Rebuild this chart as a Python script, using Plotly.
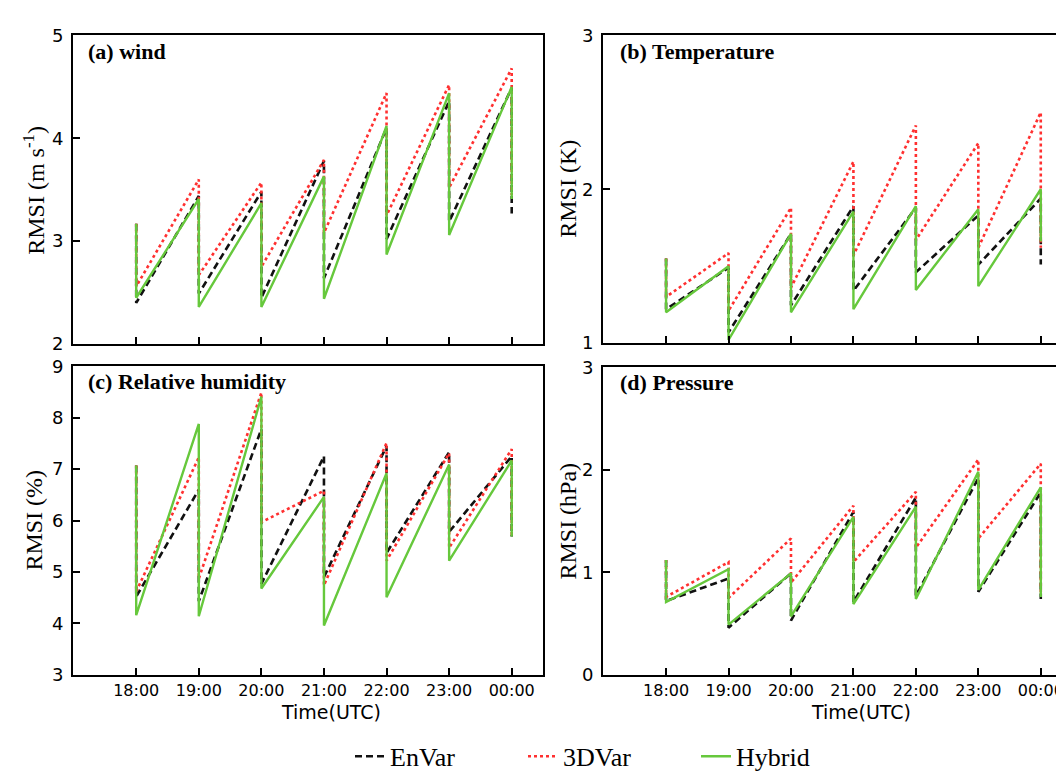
import plotly.graph_objects as go
from plotly.subplots import make_subplots

# ---------------- data ----------------
hours = ["18:00", "19:00", "20:00", "21:00", "22:00", "23:00", "00:00"]
series_names = ["EnVar", "3DVar", "Hybrid"]

# (a) wind : forecast (top of saw) and analysis (bottom of saw) at each hour
wind_envar_fc = [3.17, 3.44, 3.48, 3.78, 4.10, 4.36, 4.49]
wind_envar_an = [2.40, 2.49, 2.45, 2.64, 3.02, 3.19, 3.27]
wind_3dvar_fc = [3.17, 3.60, 3.57, 3.79, 4.44, 4.52, 4.68]
wind_3dvar_an = [2.56, 2.67, 2.75, 3.08, 3.25, 3.52, 3.45]
wind_hybrid_fc = [3.17, 3.41, 3.37, 3.63, 4.12, 4.44, 4.50]
wind_hybrid_an = [2.45, 2.36, 2.36, 2.44, 2.87, 3.06, 3.41]

# (b) temperature
temp_envar_fc = [1.55, 1.49, 1.71, 1.89, 1.88, 1.83, 1.94]
temp_envar_an = [1.22, 1.07, 1.245, 1.34, 1.46, 1.51, 1.51]
temp_3dvar_fc = [1.55, 1.585, 1.88, 2.18, 2.415, 2.30, 2.50]
temp_3dvar_an = [1.30, 1.21, 1.36, 1.57, 1.67, 1.62, 1.62]
temp_hybrid_fc = [1.55, 1.50, 1.71, 1.855, 1.89, 1.87, 2.00]
temp_hybrid_an = [1.20, 1.02, 1.20, 1.22, 1.345, 1.37, 1.66]

# (c) relative humidity
rh_envar_fc = [7.07, 6.60, 7.78, 7.25, 7.45, 7.33, 7.25]
rh_envar_an = [4.52, 4.43, 4.77, 4.90, 5.37, 5.78, 5.69]
rh_3dvar_fc = [7.07, 7.23, 8.49, 6.58, 7.51, 7.31, 7.39]
rh_3dvar_an = [4.62, 4.87, 5.97, 4.74, 5.22, 5.47, 5.70]
rh_hybrid_fc = [7.07, 7.88, 8.41, 6.46, 6.92, 7.09, 7.17]
rh_hybrid_an = [4.16, 4.14, 4.68, 3.96, 4.51, 5.22, 5.69]

# (d) pressure
p_envar_fc = [1.12, 0.94, 0.99, 1.59, 1.73, 1.92, 1.78]
p_envar_an = [0.72, 0.46, 0.53, 0.71, 0.77, 0.81, 0.74]
p_3dvar_fc = [1.12, 1.10, 1.33, 1.65, 1.785, 2.10, 2.06]
p_3dvar_an = [0.76, 0.75, 0.90, 1.10, 1.24, 1.33, 0.78]
p_hybrid_fc = [1.12, 1.03, 0.99, 1.54, 1.64, 1.98, 1.83]
p_hybrid_an = [0.71, 0.49, 0.57, 0.69, 0.74, 0.83, 0.76]

panel_titles = ["(a) wind", "(b) Temperature", "(c) Relative humidity", "(d) Pressure"]
y_titles = ["RMSI (m s<sup>-1</sup>)", "RMSI (K)", "RMSI (%)", "RMSI (hPa)"]
y_ranges = [[2, 5], [1, 3], [3, 9], [0, 3]]
y_ticks = [[2, 3, 4, 5], [1, 2, 3], [3, 4, 5, 6, 7, 8, 9], [0, 1, 2, 3]]
x_title = "Time(UTC)"

panels = [
    [(wind_envar_fc, wind_envar_an), (wind_3dvar_fc, wind_3dvar_an), (wind_hybrid_fc, wind_hybrid_an)],
    [(temp_envar_fc, temp_envar_an), (temp_3dvar_fc, temp_3dvar_an), (temp_hybrid_fc, temp_hybrid_an)],
    [(rh_envar_fc, rh_envar_an), (rh_3dvar_fc, rh_3dvar_an), (rh_hybrid_fc, rh_hybrid_an)],
    [(p_envar_fc, p_envar_an), (p_3dvar_fc, p_3dvar_an), (p_hybrid_fc, p_hybrid_an)],
]

# ---------------- styling ----------------
W, H = 1064, 772
styles = [
    dict(color="#111111", width=2.6, dash="7px,4px"),
    dict(color="#FF3030", width=2.6, dash="dot"),
    dict(color="#66C83C", width=2.4, dash="solid"),
]
SERIF = "Liberation Serif"
SANS = "DejaVu Sans"

fig = make_subplots(rows=2, cols=2)

xs = []
for i in range(len(hours)):
    xs += [i, i]

pos = [(1, 1), (1, 2), (2, 1), (2, 2)]
for p, (r, c) in enumerate(pos):
    for s, (fc, an) in enumerate(panels[p]):
        ys = []
        for f, a in zip(fc, an):
            ys += [f, a]
        fig.add_trace(
            go.Scatter(x=xs, y=ys, mode="lines", name=series_names[s],
                       line=styles[s], showlegend=(p == 0), legendgroup=series_names[s]),
            row=r, col=c,
        )

def px_x(a, b):
    return [a / W, b / W]

def px_y(top, bottom):
    return [1 - bottom / H, 1 - top / H]

dom_x = [px_x(65, 535), px_x(595, 1064), px_x(65, 535), px_x(595, 1064)]
dom_y = [px_y(17, 335), px_y(17, 334), px_y(358, 676), px_y(359, 676)]

for p in range(4):
    ax = "" if p == 0 else str(p + 1)
    fig.layout["xaxis" + ax].update(
        domain=dom_x[p], range=[-1.01, 6.5], tickmode="array",
        tickvals=list(range(len(hours))), ticktext=hours,
        showticklabels=(p >= 2), ticks="inside", ticklen=7, tickwidth=1.5,
        tickcolor="black", showline=True, linecolor="black", linewidth=2,
        mirror=True, showgrid=False, zeroline=False,
        tickfont=dict(family=SANS, size=16, color="black"),
    )
    fig.layout["yaxis" + ax].update(
        domain=dom_y[p], range=y_ranges[p], tickmode="array",
        tickvals=y_ticks[p], ticks="inside", ticklen=7, tickwidth=1.5,
        tickcolor="black", showline=True, linecolor="black", linewidth=2,
        mirror=(p % 2 == 0), showgrid=False, zeroline=False,
        ticklabelstandoff=4,
        tickfont=dict(family=SANS, size=18, color="black"),
    )

annotations = []
title_pos = [(78, 33), (610, 33), (78, 374), (610, 375)]
for p in range(4):
    annotations.append(dict(
        text="<b>" + panel_titles[p] + "</b>", x=title_pos[p][0] / W, y=1 - title_pos[p][1] / H,
        xref="paper", yref="paper", xanchor="left", yanchor="middle", showarrow=False,
        font=dict(family=SERIF, size=22, color="black"),
    ))
ytitle_pos = [(26, 177), (560, 175), (26, 517), (560, 518)]
for p in range(4):
    annotations.append(dict(
        text=y_titles[p], x=ytitle_pos[p][0] / W, y=1 - ytitle_pos[p][1] / H,
        xref="paper", yref="paper", xanchor="center", yanchor="middle", showarrow=False,
        textangle=-90, font=dict(family=SERIF, size=24, color="black"),
    ))
for xc in (323, 853):
    annotations.append(dict(
        text=x_title, x=xc / W, y=1 - 714 / H, xref="paper", yref="paper",
        xanchor="center", yanchor="middle", showarrow=False,
        font=dict(family=SANS, size=19, color="black"),
    ))

fig.update_layout(
    width=W, height=H, margin=dict(l=0, r=0, t=0, b=0),
    plot_bgcolor="white", paper_bgcolor="white",
    annotations=annotations,
    legend=dict(
        orientation="h", x=342 / W, xanchor="left", y=1 - 760 / H, yanchor="middle",
        font=dict(family=SERIF, size=26, color="black"),
        entrywidth=128, entrywidthmode="pixels", bgcolor="rgba(0,0,0,0)",
        itemwidth=30,
    ),
)

fig.write_html("out.html")
